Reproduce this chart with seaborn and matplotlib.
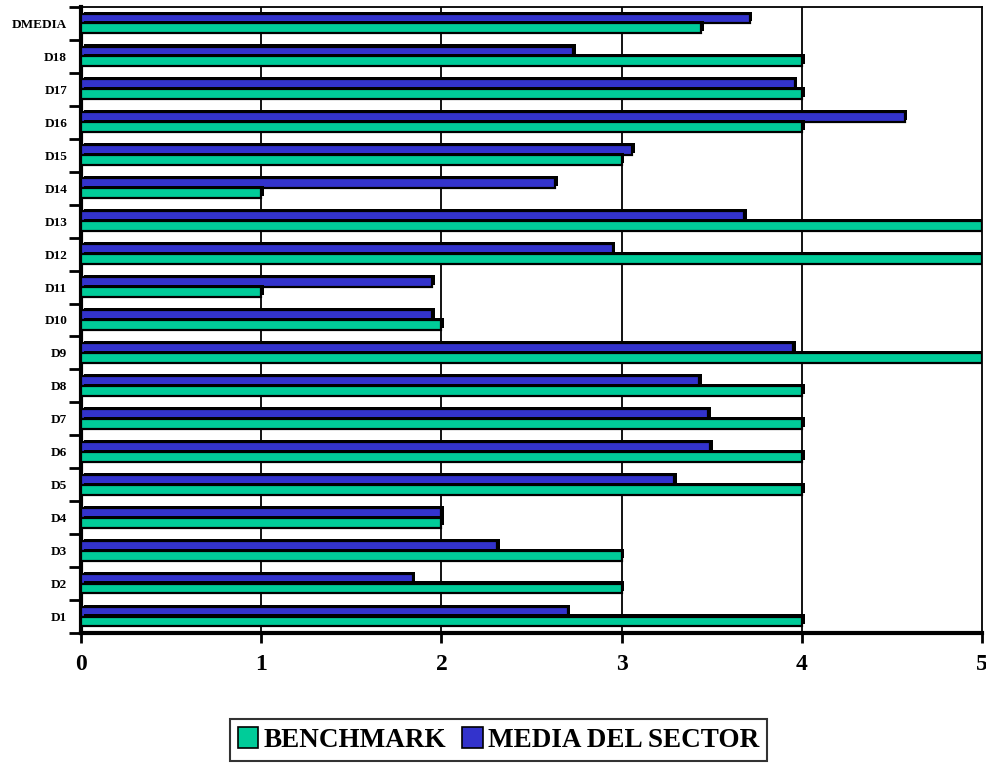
import pandas as pd
import seaborn as sns
import matplotlib.pyplot as plt
import matplotlib.patheffects as pe
from matplotlib.patches import Patch

categories = ['DMEDIA', 'D18', 'D17', 'D16', 'D15', 'D14', 'D13', 'D12', 'D11', 'D10',
              'D9', 'D8', 'D7', 'D6', 'D5', 'D4', 'D3', 'D2', 'D1']
benchmark = [3.44, 4.0, 4.0, 4.0, 3.0, 1.0, 5.0, 5.0, 1.0, 2.0,
             5.0, 4.0, 4.0, 4.0, 4.0, 2.0, 3.0, 3.0, 4.0]
media_sector = [3.71, 2.73, 3.96, 4.57, 3.06, 2.63, 3.68, 2.95, 1.95, 1.95,
                3.95, 3.43, 3.48, 3.49, 3.29, 2.0, 2.31, 1.84, 2.70]
series = ['BENCHMARK', 'MEDIA DEL SECTOR']
colors = {'BENCHMARK': '#00CC99', 'MEDIA DEL SECTOR': '#3333CC'}

df = pd.DataFrame({
    'cat': categories * 2,
    'val': benchmark + media_sector,
    'serie': [series[0]] * len(categories) + [series[1]] * len(categories),
})

sns.set_style('white')
plt.rcParams['font.family'] = ['Liberation Serif', 'DejaVu Serif']
plt.rcParams['font.weight'] = 'bold'
plt.rcParams['text.color'] = 'black'
plt.rcParams['xtick.color'] = 'black'
plt.rcParams['ytick.color'] = 'black'

fig = plt.figure(figsize=(9.87, 7.65), dpi=100)
ax = fig.add_axes([81 / 987, 1 - 633 / 765, 901 / 987, 626 / 765])

sns.barplot(data=df, x='val', y='cat', hue='serie', order=categories,
            hue_order=[series[1], series[0]], palette=colors, orient='h',
            width=0.6, saturation=1, edgecolor='black', linewidth=1.6,
            legend=False, ax=ax)

# fake 3D depth
for p in ax.patches:
    p.set_path_effects([pe.SimplePatchShadow(offset=(2, 1.5), shadow_rgbFace='black', alpha=1),
                        pe.Normal()])
    p.set_zorder(3)

ax.set_xlim(0, 5)
ax.set_ylim(len(categories) - 0.5, -0.5)
ax.set_xticks(range(6))
ax.set_xticklabels([str(i) for i in range(6)], fontsize=17, fontweight='bold')
ax.set_yticks(range(len(categories)))
ax.set_yticklabels(categories, fontsize=9.5, fontweight='bold')
ax.set_yticks([i - 0.5 for i in range(len(categories) + 1)], minor=True)
ax.tick_params(axis='y', which='major', left=False, length=0, pad=10)
ax.tick_params(axis='y', which='minor', left=True, length=9, width=2, direction='out')
ax.tick_params(axis='x', bottom=True, length=7, width=2, direction='out', pad=8)
ax.set_xlabel('')
ax.set_ylabel('')

for v in range(1, 5):
    ax.axvline(v, color='black', lw=1.3, zorder=1)

for s in ['top', 'right']:
    ax.spines[s].set_linewidth(1.3)
    ax.spines[s].set_color('black')
for s in ['left', 'bottom']:
    ax.spines[s].set_linewidth(3)
    ax.spines[s].set_color('black')

handles = [Patch(facecolor=colors[s], edgecolor='black', linewidth=1.2, label=s) for s in series]
leg = fig.legend(handles=handles, loc='upper center', bbox_to_anchor=(0.505, 0.06),
                 ncol=2, fontsize=19.5, frameon=True, fancybox=False, edgecolor='black',
                 handlelength=0.75, handleheight=0.8, handletextpad=0.2, columnspacing=0.6,
                 borderpad=0.3, borderaxespad=0)
leg.get_frame().set_linewidth(1.5)
for t in leg.get_texts():
    t.set_fontweight('bold')

fig.savefig('out.png', dpi=100)
